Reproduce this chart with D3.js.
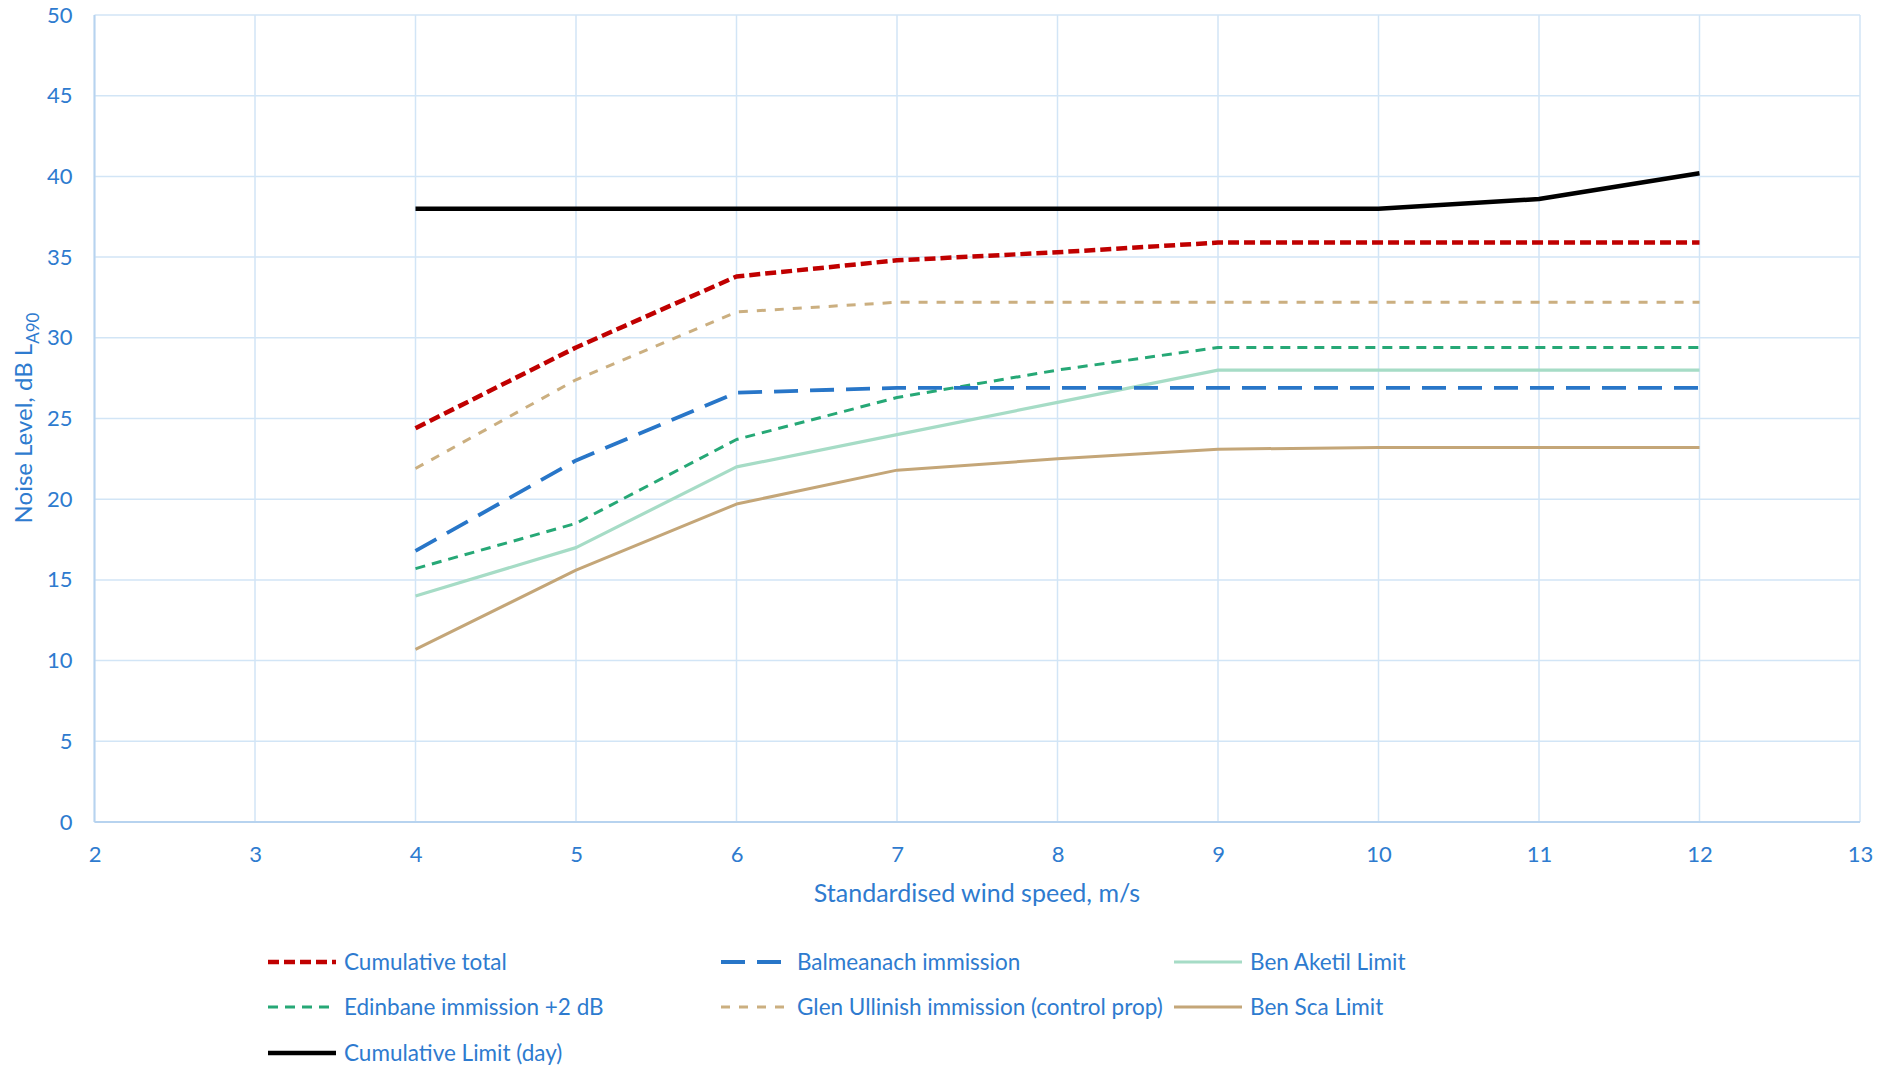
<!DOCTYPE html>
<html><head><meta charset="utf-8">
<script src="https://cdn.jsdelivr.net/npm/d3@7"></script>
<style>body{margin:0;background:#fff;} svg{display:block;} text{font-family:Lato, "Open Sans", sans-serif;}</style>
</head><body>
<svg id="c" width="1893" height="1070"></svg>
<script>
const windSpeeds = [4,5,6,7,8,9,10,11,12];
const cumulativeTotal = [24.4,29.4,33.8,34.8,35.3,35.9,35.9,35.9,35.9];
const balmeanach = [16.8,22.4,26.6,26.9,26.9,26.9,26.9,26.9,26.9];
const benAketil = [14,17,22,24,26,28,28,28,28];
const edinbane = [15.7,18.5,23.7,26.3,28.0,29.4,29.4,29.4,29.4];
const glenUllinish = [21.9,27.4,31.6,32.2,32.2,32.2,32.2,32.2,32.2];
const benSca = [10.7,15.6,19.7,21.8,22.5,23.1,23.2,23.2,23.2];
const cumulativeLimit = [38,38,38,38,38,38,38,38.6,40.2];
const xTicks = [2,3,4,5,6,7,8,9,10,11,12,13];
const yTicks = [0,5,10,15,20,25,30,35,40,45,50];

const series = [
  {name:"Cumulative total", values:cumulativeTotal, color:"#C00000", w:4.5, dash:"11,5"},
  {name:"Balmeanach immission", values:balmeanach, color:"#2876C8", w:3.8, dash:"24,12"},
  {name:"Ben Aketil Limit", values:benAketil, color:"#A6DCC6", w:3.2, dash:null},
  {name:"Edinbane immission +2 dB", values:edinbane, color:"#26A876", w:3, dash:"10,7"},
  {name:"Glen Ullinish immission (control prop)", values:glenUllinish, color:"#CBAF80", w:3, dash:"9,9"},
  {name:"Ben Sca Limit", values:benSca, color:"#C4A678", w:3, dash:null},
  {name:"Cumulative Limit (day)", values:cumulativeLimit, color:"#000000", w:4.5, dash:null}
];
const drawOrder = [2,5,4,3,1,0,6];

const svg = d3.select("#c");
const L=94.5, R=1860, T=15, B=822;
const x = d3.scaleLinear().domain([2,13]).range([L,R]);
const y = d3.scaleLinear().domain([0,50]).range([B,T]);
const tickColor = "#2E7BCF";
const gridColor = "#D2E5F6";

svg.append("g").selectAll("line.v").data(xTicks).join("line")
  .attr("x1",d=>x(d)).attr("x2",d=>x(d)).attr("y1",T).attr("y2",B)
  .attr("stroke",gridColor).attr("stroke-width",1.5);
svg.append("g").selectAll("line.h").data(yTicks).join("line")
  .attr("x1",L).attr("x2",R).attr("y1",d=>y(d)).attr("y2",d=>y(d))
  .attr("stroke",gridColor).attr("stroke-width",1.5);
svg.append("line").attr("x1",L).attr("x2",R).attr("y1",B).attr("y2",B).attr("stroke","#B7D3EF").attr("stroke-width",2);
svg.append("line").attr("x1",L).attr("x2",L).attr("y1",T).attr("y2",B).attr("stroke","#B7D3EF").attr("stroke-width",2);

const xAxis = svg.append("g").attr("transform",`translate(0,${B})`)
  .call(d3.axisBottom(x).tickValues(xTicks).tickSize(0).tickPadding(24).tickFormat(d3.format("d")));
xAxis.select(".domain").remove();
xAxis.selectAll("text").attr("fill",tickColor).style("font-size","22px").style("font-family","Lato, sans-serif");
const yAxis = svg.append("g").attr("transform",`translate(${L},0)`)
  .call(d3.axisLeft(y).tickValues(yTicks).tickSize(0).tickPadding(22).tickFormat(d3.format("d")));
yAxis.select(".domain").remove();
yAxis.selectAll("text").attr("fill",tickColor).style("font-size","22px").style("font-family","Lato, sans-serif");

svg.append("text").attr("x",977).attr("y",902).attr("text-anchor","middle")
  .attr("fill",tickColor).style("font-size","25px").text("Standardised wind speed, m/s");
const yt = svg.append("text").attr("transform","translate(32,418) rotate(-90)").attr("text-anchor","middle")
  .attr("fill",tickColor).style("font-size","24px");
yt.append("tspan").text("Noise Level, dB L");
yt.append("tspan").attr("dy",7).style("font-size","17px").text("A90");

const line = d3.line().x((d,i)=>x(windSpeeds[i])).y(d=>y(d));
drawOrder.forEach(k=>{
  const s = series[k];
  svg.append("path").datum(s.values).attr("d",line)
    .attr("fill","none").attr("stroke",s.color).attr("stroke-width",s.w)
    .attr("stroke-dasharray",s.dash).attr("stroke-linejoin","round");
});

const colX = [268,721,1174];
const rowY = [962,1007,1053];
series.forEach((s,i)=>{
  const cx = colX[i%3], cy = rowY[Math.floor(i/3)];
  const g = svg.append("g");
  g.append("line").attr("x1",cx).attr("x2",cx+68).attr("y1",cy).attr("y2",cy)
    .attr("stroke",s.color).attr("stroke-width",s.w).attr("stroke-dasharray",s.dash);
  g.append("text").attr("x",cx+76).attr("y",cy).attr("dy","0.35em")
    .attr("fill",tickColor).style("font-size","22.5px").text(s.name);
});
</script>
</body></html>
